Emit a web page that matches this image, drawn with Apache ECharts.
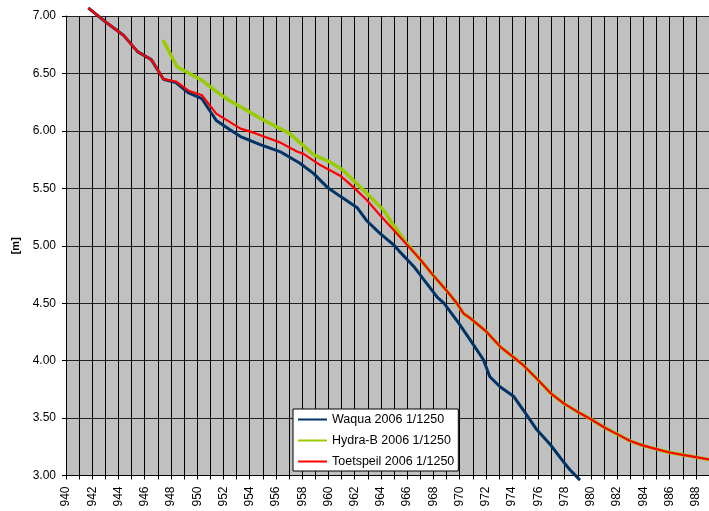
<!DOCTYPE html>
<html>
<head>
<meta charset="utf-8">
<script src="https://cdn.jsdelivr.net/npm/echarts@6/dist/echarts.min.js"></script>
<style>
html,body{margin:0;padding:0;background:#fff;}
#chart{width:709px;height:511px;}
</style>
</head>
<body>
<div id="chart"></div>
<script>
// ---- data ----
const seriesNames = ['Waqua 2006 1/1250', 'Hydra-B 2006 1/1250', 'Toetspeil 2006 1/1250'];

const waquaKm    = [941.7,943,944.4,945.45,946.5,947.43,948.38,949.34,950.36,951.45,952.5,953.3,954.8,956.3,957.8,958.86,959.9,960.9,962.2,962.9,963.9,964.95,965.5,966.5,967.5,968.3,968.8,969.9,970.8,971.8,972.3,973.1,974.1,974.85,975.87,976.9,977.9,978.4,979.17];
const waquaLevel = [7.07,6.95,6.83,6.69,6.62,6.45,6.42,6.33,6.28,6.09,6.01,5.95,5.88,5.82,5.72,5.63,5.51,5.43,5.33,5.22,5.11,5.01,4.94,4.82,4.67,4.55,4.50,4.33,4.18,4.01,3.86,3.77,3.69,3.57,3.40,3.27,3.12,3.05,2.96];

const hydraKm    = [947.4,948.45,949.4,950.36,951.5,952.5,953.3,954.8,956.3,957,958,958.9,960.1,961.1,961.9,962.9,964.2,964.95,965.97,967,968,969,969.78,970.3,970.8,972.06,973.1,974,974.85,975.9,976.9,977.9,978.9,980,981,982,983,984,985,986,987,988,989];
const hydraLevel = [6.79,6.56,6.50,6.44,6.34,6.26,6.21,6.11,6.02,5.98,5.88,5.79,5.73,5.66,5.57,5.46,5.31,5.18,5.02,4.88,4.74,4.61,4.50,4.41,4.37,4.25,4.12,4.04,3.96,3.84,3.72,3.63,3.56,3.49,3.42,3.36,3.30,3.26,3.23,3.20,3.18,3.16,3.14];

const toetsKm    = [941.7,943,944.4,945.45,946.5,947.43,948.38,949.34,950.36,951.45,953.3,954.4,956.3,957.6,958.1,959.4,960.9,961.9,962.9,963.9,964.95,965.97,967,968,969,969.78,970.3,970.8,972.06,973.1,974,974.85,975.9,976.9,977.9,978.9,980,981,982,983,984,985,986,987,988,989];
const toetsLevel = [7.07,6.95,6.83,6.69,6.62,6.45,6.43,6.35,6.31,6.15,6.02,5.98,5.90,5.82,5.80,5.70,5.61,5.51,5.40,5.27,5.14,5.01,4.88,4.74,4.61,4.50,4.41,4.37,4.25,4.12,4.04,3.96,3.84,3.72,3.63,3.56,3.49,3.42,3.36,3.30,3.26,3.23,3.20,3.18,3.16,3.14];

const xMin = 940, xMax = 989, xStep = 1;
const yMin = 3, yMax = 7, yStep = 0.5;
const yAxisTitle = '[m]';

// ---- build ----
function pairs(xs, ys){ return xs.map((x,i)=>[x, ys[i]]); }

const chart = echarts.init(document.getElementById('chart'), null, {renderer:'canvas'});
const font = 'Liberation Sans, Arial, sans-serif';

chart.setOption({
  animation: false,
  backgroundColor: '#fff',
  grid: {
    left: 66, top: 16, width: 643.4, height: 459.5,
    show: true, backgroundColor: '#c0c0c0', borderWidth: 0
  },
  xAxis: {
    type: 'value', min: xMin, max: xMax, interval: xStep,
    axisLine: {show: true, onZero: false, lineStyle: {color: '#000', width: 1}},
    axisTick: {show: true, length: 4, lineStyle: {color: '#000'}},
    axisLabel: {
      rotate: 90, margin: 11, fontSize: 12, fontFamily: font, color: '#000',
      formatter: v => (Math.round(v) % 2 === 0 ? String(Math.round(v)) : '')
    },
    splitLine: {show: true, lineStyle: {color: '#000', width: 1}}
  },
  yAxis: {
    type: 'value', min: yMin, max: yMax, interval: yStep,
    name: yAxisTitle, nameLocation: 'middle', nameGap: 41, nameRotate: 90,
    nameTextStyle: {fontSize: 11, fontWeight: 'bold', fontFamily: font, color: '#000'},
    axisLine: {show: true, lineStyle: {color: '#000', width: 1}},
    axisTick: {show: true, length: 4, lineStyle: {color: '#000'}},
    axisLabel: {margin: 10, fontSize: 12, fontFamily: font, color: '#000',
      formatter: v => v.toFixed(2)},
    splitLine: {show: true, lineStyle: {color: '#222', width: 1}}
  },
  legend: {
    orient: 'vertical', left: 293, top: 409,
    padding: [4, 4, 3, 4], itemGap: 8, itemWidth: 29, itemHeight: 14,
    backgroundColor: '#fff', borderColor: '#000', borderWidth: 1, borderRadius: 0,
    itemStyle: {opacity: 0},
    textStyle: {fontSize: 12.5, fontFamily: font, color: '#000'},
    data: seriesNames
  },
  series: [
    {name: seriesNames[0], type: 'line', data: pairs(waquaKm, waquaLevel), showSymbol: false, symbol: 'none',
     clip: false, lineStyle: {color: '#003366', width: 3}, itemStyle: {color: '#003366'}, z: 2},
    {name: seriesNames[1], type: 'line', data: pairs(hydraKm, hydraLevel), showSymbol: false, symbol: 'none',
     clip: false, lineStyle: {color: '#99cc00', width: 3.5}, itemStyle: {color: '#99cc00'}, z: 3},
    {name: seriesNames[2], type: 'line', data: pairs(toetsKm, toetsLevel), showSymbol: false, symbol: 'none',
     clip: false, lineStyle: {color: '#ff0000', width: 2.2}, itemStyle: {color: '#ff0000'}, z: 4}
  ]
});
</script>
</body>
</html>
